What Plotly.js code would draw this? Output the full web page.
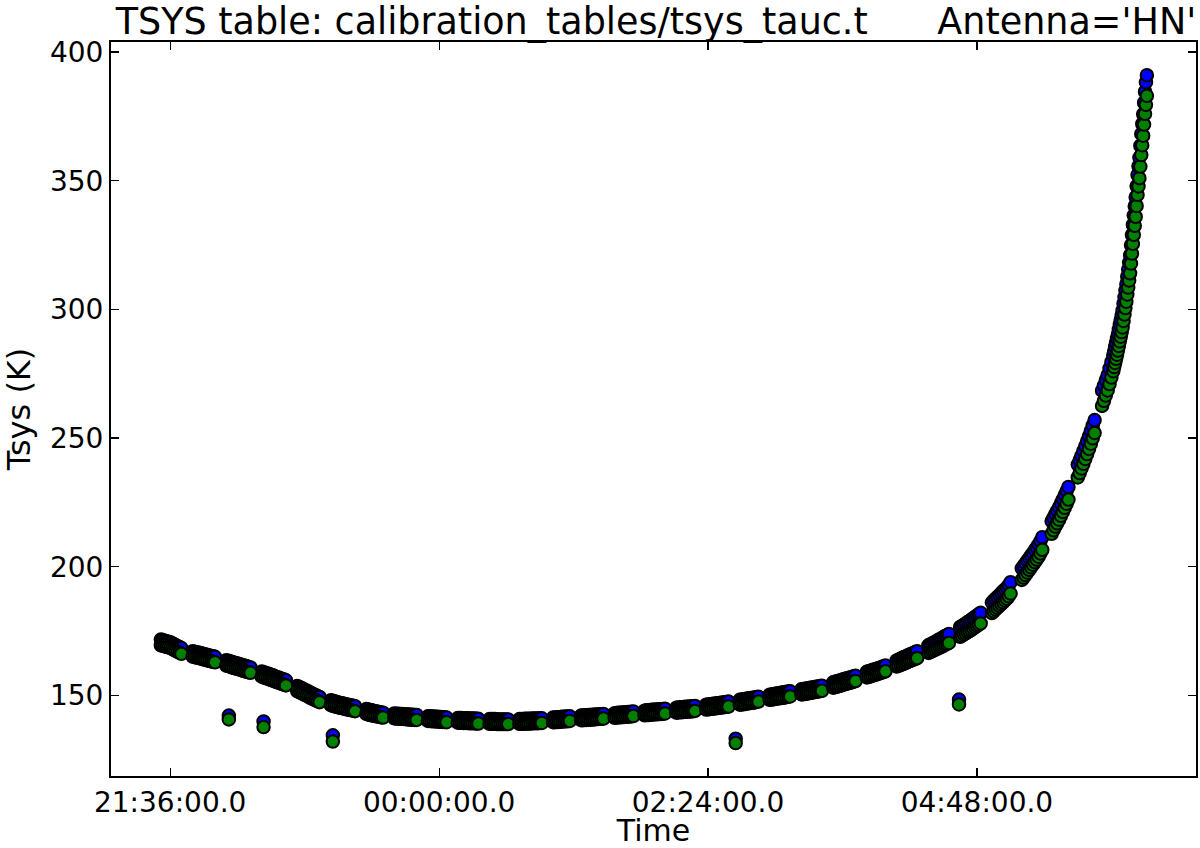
<!DOCTYPE html>
<html>
<head>
<meta charset="utf-8">
<script src="https://cdn.plot.ly/plotly-3.0.1.min.js"></script>
<style>
  html, body { margin: 0; padding: 0; background: #fff; }
  #myDiv { width: 1200px; height: 848px; }
</style>
</head>
<body>
<div id="myDiv"></div>
<script>
// time of each sample, minutes after 21:36:00 (one line per scan)
const minutes = [
  -5,-4,-3,-2,-1,0,1,2,3,4,5,6,
  12,13,14,15,16,17,18,19,20,21,22,23,24,
  30,31,32,33,34,35,36,37,38,39,40,41,42,43,
  49,50,51,52,53,54,55,56,57,58,59,60,61,62,
  68,69,70,71,72,73,74,75,76,77,78,79,80,
  86,87,88,89,90,91,92,93,94,95,96,97,98,99,
  105,106,107,108,109,110,111,112,113,114,
  120,121,122,123,124,125,126,127,128,129,130,131,132,
  138,139,140,141,142,143,144,145,146,147,148,
  154,155,156,157,158,159,160,161,162,163,164,165,
  171,172,173,174,175,176,177,178,179,180,181,
  187,188,189,190,191,192,193,194,195,196,197,198,199,
  205,206,207,208,209,210,211,212,213,214,
  220,221,222,223,224,225,226,227,228,229,230,231,232,
  238,239,240,241,242,243,244,245,246,247,248,
  254,255,256,257,258,259,260,261,262,263,264,265,
  271,272,273,274,275,276,277,278,279,280,281,
  287,288,289,290,291,292,293,294,295,296,297,298,299,
  305,306,307,308,309,310,311,312,313,314,315,
  321,322,323,324,325,326,327,328,329,330,331,332,
  338,339,340,341,342,343,344,345,346,347,348,349,
  355,356,357,358,359,360,361,362,363,364,365,366,367,
  373,374,375,376,377,378,379,380,381,382,383,
  389,390,391,392,393,394,395,396,397,398,399,400,
  406,407,408,409,410,411,412,413,414,415,416,417,
  423,424,425,426,427,428,429,430,431,432,433,434,
  440,441,442,443,444,445,446,447,448,449,450,
  456,457,458,459,460,461,462,463,464,465,466,467,
  472,473,474,475,476,477,478,479,480,481,
  486,487,488,489,490,491,492,493,494,495,
  499,500,501,502,503,504,505,505.5,506,506.5,507,507.5,508,508.5,509,509.5,
  510,510.5,511,511.5,512,512.5,513,513.5,514,514.5,515,515.5,516,516.5,517,517.5,
  518,518.5,519,519.5,520,520.5,521,521.5,522,522.5,523
];

// blue series, Tsys (K)
const tsysBlue = [
  171.7,171.5,171.3,171.1,170.9,170.7,170.3,169.9,169.5,169.1,168.8,168.4,
  167.2,167.0,166.8,166.7,166.5,166.3,166.1,165.9,165.7,165.5,165.3,165.2,165.0,
  163.7,163.5,163.3,163.0,162.8,162.6,162.4,162.2,161.9,161.7,161.5,161.3,161.1,160.9,
  159.3,159.0,158.8,158.5,158.3,158.0,157.8,157.5,157.2,157.0,156.7,156.4,156.2,155.9,
  153.7,153.3,153.0,152.6,152.2,151.9,151.5,151.1,150.8,150.4,150.1,149.7,149.4,
  148.1,147.9,147.7,147.5,147.3,147.1,147.0,146.8,146.6,146.4,146.3,146.1,146.0,145.8,
  144.7,144.5,144.3,144.2,144.0,143.9,143.7,143.6,143.4,143.3,
  143.0,142.9,142.9,142.8,142.8,142.7,142.7,142.6,142.6,142.5,142.5,142.4,142.4,
  141.9,141.9,141.8,141.8,141.7,141.7,141.6,141.6,141.5,141.5,141.4,
  141.2,141.2,141.2,141.1,141.1,141.1,141.0,141.0,141.0,141.0,140.9,140.9,
  140.8,140.8,140.8,140.8,140.7,140.7,140.7,140.7,140.7,140.7,140.7,
  140.8,140.8,140.8,140.9,140.9,140.9,140.9,141.0,141.0,141.0,141.0,141.1,141.1,
  141.4,141.4,141.5,141.5,141.6,141.7,141.7,141.8,141.8,141.9,
  142.2,142.2,142.3,142.3,142.4,142.4,142.5,142.5,142.6,142.6,142.7,142.7,142.8,
  143.1,143.2,143.3,143.3,143.4,143.4,143.5,143.6,143.6,143.7,143.8,
  144.1,144.2,144.2,144.3,144.4,144.4,144.5,144.5,144.6,144.6,144.7,144.8,
  145.2,145.3,145.4,145.4,145.5,145.6,145.6,145.7,145.7,145.8,145.9,
  146.4,146.5,146.6,146.7,146.8,146.9,147.0,147.1,147.2,147.3,147.4,147.5,147.6,
  148.3,148.4,148.5,148.6,148.8,148.9,149.0,149.1,149.2,149.4,149.5,
  150.3,150.4,150.5,150.7,150.8,150.9,151.0,151.1,151.2,151.4,151.5,151.6,
  152.4,152.5,152.6,152.7,152.9,153.0,153.1,153.3,153.4,153.5,153.7,153.8,
  155.1,155.3,155.5,155.7,155.9,156.2,156.4,156.6,156.8,157.0,157.2,157.5,157.7,
  159.2,159.4,159.6,159.9,160.1,160.3,160.6,160.8,161.1,161.3,161.6,
  163.6,163.9,164.3,164.6,164.9,165.2,165.6,165.9,166.2,166.5,166.9,167.2,
  169.5,169.8,170.2,170.6,171.0,171.4,171.8,172.2,172.6,173.1,173.4,173.9,
  176.6,177.0,177.5,178.0,178.5,178.9,179.5,180.0,180.5,181.1,181.6,182.1,
  186.1,186.9,187.6,188.3,189.0,189.8,190.5,191.2,191.9,192.9,194.0,
  199.4,200.3,201.3,202.4,203.4,204.4,205.4,206.5,207.5,208.7,210.0,211.5,
  217.7,219.1,220.5,221.8,223.2,224.7,226.2,227.8,229.4,231.0,
  239.7,241.4,243.2,245.0,246.9,248.8,250.8,252.8,254.9,257.0,
  268.4,270.4,272.5,274.5,277.1,279.6,282.2,283.8,285.5,287.1,288.7,290.4,292.2,294.1,295.9,297.8,
  299.6,302.2,304.7,307.3,309.8,312.7,315.5,318.2,321.1,325.0,329.0,332.9,336.5,340.1,343.6,347.9,
  352.3,355.7,359.0,363.6,368.2,372.1,375.9,380.3,384.6,388.2,391.0
];

// green series, Tsys (K)
const tsysGreen = [
  169.5,169.3,169.1,168.9,168.7,168.5,168.1,167.7,167.3,166.9,166.6,166.2,
  165.1,164.9,164.7,164.6,164.4,164.2,164.0,163.8,163.6,163.4,163.2,163.1,162.9,
  161.6,161.4,161.2,160.9,160.7,160.5,160.3,160.1,159.8,159.6,159.4,159.2,159.0,158.8,
  157.3,157.0,156.8,156.5,156.3,156.0,155.8,155.5,155.2,155.0,154.7,154.4,154.2,153.9,
  151.7,151.3,151.0,150.6,150.2,149.9,149.5,149.1,148.8,148.4,148.1,147.7,147.4,
  146.2,146.0,145.8,145.6,145.4,145.2,145.1,144.9,144.7,144.5,144.4,144.2,144.1,143.9,
  142.8,142.6,142.4,142.3,142.1,142.0,141.8,141.7,141.5,141.4,
  141.1,141.0,141.0,140.9,140.9,140.8,140.8,140.7,140.7,140.6,140.6,140.5,140.5,
  140.1,140.1,140.0,140.0,139.9,139.9,139.8,139.8,139.7,139.7,139.6,
  139.4,139.4,139.4,139.3,139.3,139.3,139.2,139.2,139.2,139.2,139.1,139.1,
  139.0,139.0,139.0,139.0,138.9,138.9,138.9,138.9,138.9,138.9,138.9,
  139.0,139.0,139.0,139.1,139.1,139.1,139.1,139.2,139.2,139.2,139.2,139.3,139.3,
  139.6,139.6,139.7,139.7,139.8,139.9,139.9,140.0,140.0,140.1,
  140.4,140.4,140.5,140.5,140.6,140.6,140.7,140.7,140.8,140.8,140.9,140.9,141.0,
  141.3,141.4,141.5,141.5,141.6,141.6,141.7,141.8,141.8,141.9,142.0,
  142.3,142.4,142.4,142.5,142.6,142.6,142.7,142.7,142.8,142.8,142.9,143.0,
  143.3,143.4,143.5,143.5,143.6,143.7,143.7,143.8,143.8,143.9,144.0,
  144.5,144.6,144.7,144.8,144.9,145.0,145.1,145.2,145.3,145.4,145.5,145.6,145.7,
  146.4,146.5,146.6,146.7,146.9,147.0,147.1,147.2,147.3,147.5,147.6,
  148.3,148.4,148.5,148.7,148.8,148.9,149.0,149.1,149.2,149.4,149.5,149.6,
  150.4,150.5,150.6,150.7,150.9,151.0,151.1,151.3,151.4,151.5,151.7,151.8,
  153.0,153.2,153.4,153.6,153.8,154.1,154.3,154.5,154.7,154.9,155.1,155.4,155.6,
  157.0,157.2,157.4,157.7,157.9,158.1,158.4,158.6,158.9,159.1,159.4,
  161.2,161.5,161.8,162.1,162.4,162.7,163.0,163.3,163.6,163.9,164.2,164.5,
  166.5,166.8,167.2,167.5,167.9,168.2,168.6,168.9,169.3,169.7,170.0,170.4,
  172.8,173.2,173.7,174.1,174.6,175.0,175.5,176.0,176.5,177.0,177.5,178.0,
  182.0,182.7,183.4,184.1,184.8,185.5,186.2,186.9,187.6,188.5,189.6,
  194.9,195.8,196.8,197.8,198.8,199.8,200.8,201.8,202.8,203.9,205.2,206.6,
  212.8,214.2,215.6,216.9,218.3,219.8,221.3,222.9,224.5,226.1,
  234.7,236.4,238.2,240.0,241.9,243.8,245.8,247.8,249.9,252.0,
  262.5,264.5,266.5,268.5,271.0,273.5,276.0,277.6,279.2,280.8,282.4,284.0,285.8,287.6,289.4,291.2,
  293.0,295.5,298.0,300.5,303.0,305.8,308.5,311.2,314.0,317.8,321.7,325.5,329.0,332.5,336.0,340.2,
  344.5,347.8,351.0,355.5,360.0,363.8,367.5,371.8,376.0,379.5,383.0
];

// the few low samples below the main curve
const outlierMinutes = [31.4, 50.0, 87.1, 302.8, 422.4];
const outlierBlue = [142.2, 139.9, 134.5, 133.2, 148.4];
const outlierGreen = [140.7, 137.7, 132.1, 131.5, 146.5];

const tickMinutes = [0, 144, 288, 432];
const tickLabels = ["21:36:00.0", "00:00:00.0", "02:24:00.0", "04:48:00.0"];
const yTicks = [150, 200, 250, 300, 350, 400];

if (minutes.length !== tsysBlue.length || minutes.length !== tsysGreen.length) {
  throw new Error("length mismatch: " + minutes.length + " " + tsysBlue.length + " " + tsysGreen.length);
}

const BASE = Date.UTC(2000, 0, 1, 21, 36, 0); // 21:36:00
const toTime = (m) => BASE + m * 60000;

const FONT = "DejaVu Sans, Liberation Sans, sans-serif";

function makeTrace(vals, outVals, color) {
  return {
    x: minutes.concat(outlierMinutes).map(toTime),
    y: vals.concat(outVals),
    type: "scatter",
    mode: "markers",
    marker: { color: color, size: 12.5, line: { color: "black", width: 2 } },
    hoverinfo: "x+y",
  };
}

const data = [
  makeTrace(tsysBlue, outlierBlue, "#0000ff"),
  makeTrace(tsysGreen, outlierGreen, "#008000"),
];

const axisStyle = {
  showline: true,
  linecolor: "black",
  linewidth: 2,
  mirror: "allticks",
  ticks: "inside",
  ticklen: 8,
  tickwidth: 1.2,
  tickcolor: "black",
  showgrid: false,
  zeroline: false,
  tickfont: { family: FONT, size: 28, color: "black" },
};

// one title line, the two parts kept apart by non-breaking spaces
const NBSP = "\u00a0";
const titleText = "TSYS table: calibration_tables/tsys_tauc.t" + NBSP.repeat(6) + "Antenna='HN'";

const layout = {
  width: 1200,
  height: 848,
  margin: { l: 111, r: 4, t: 42, b: 72 },
  paper_bgcolor: "white",
  plot_bgcolor: "white",
  showlegend: false,
  title: {
    text: titleText,
    font: { family: FONT, size: 36.5, color: "black" },
    x: 656 / 1200,
    xref: "container",
    xanchor: "center",
    y: 1,
    yref: "paper",
    yanchor: "bottom",
    pad: { b: 8 },
  },
  xaxis: Object.assign({}, axisStyle, {
    type: "date",
    range: [toTime(-31.7), toTime(549.3)],
    tickmode: "array",
    tickvals: tickMinutes.map(toTime),
    ticktext: tickLabels,
    ticklabelstandoff: 0,
    title: { text: "Time", font: { family: FONT, size: 30, color: "black" }, standoff: 6 },
  }),
  yaxis: Object.assign({}, axisStyle, {
    range: [118.7, 403.9],
    tickmode: "array",
    tickvals: yTicks,
    ticktext: yTicks.map(String),
    title: { text: "Tsys (K)", font: { family: FONT, size: 32, color: "black" }, standoff: 18 },
  }),
};

Plotly.newPlot("myDiv", data, layout, { staticPlot: true });
</script>
</body>
</html>
